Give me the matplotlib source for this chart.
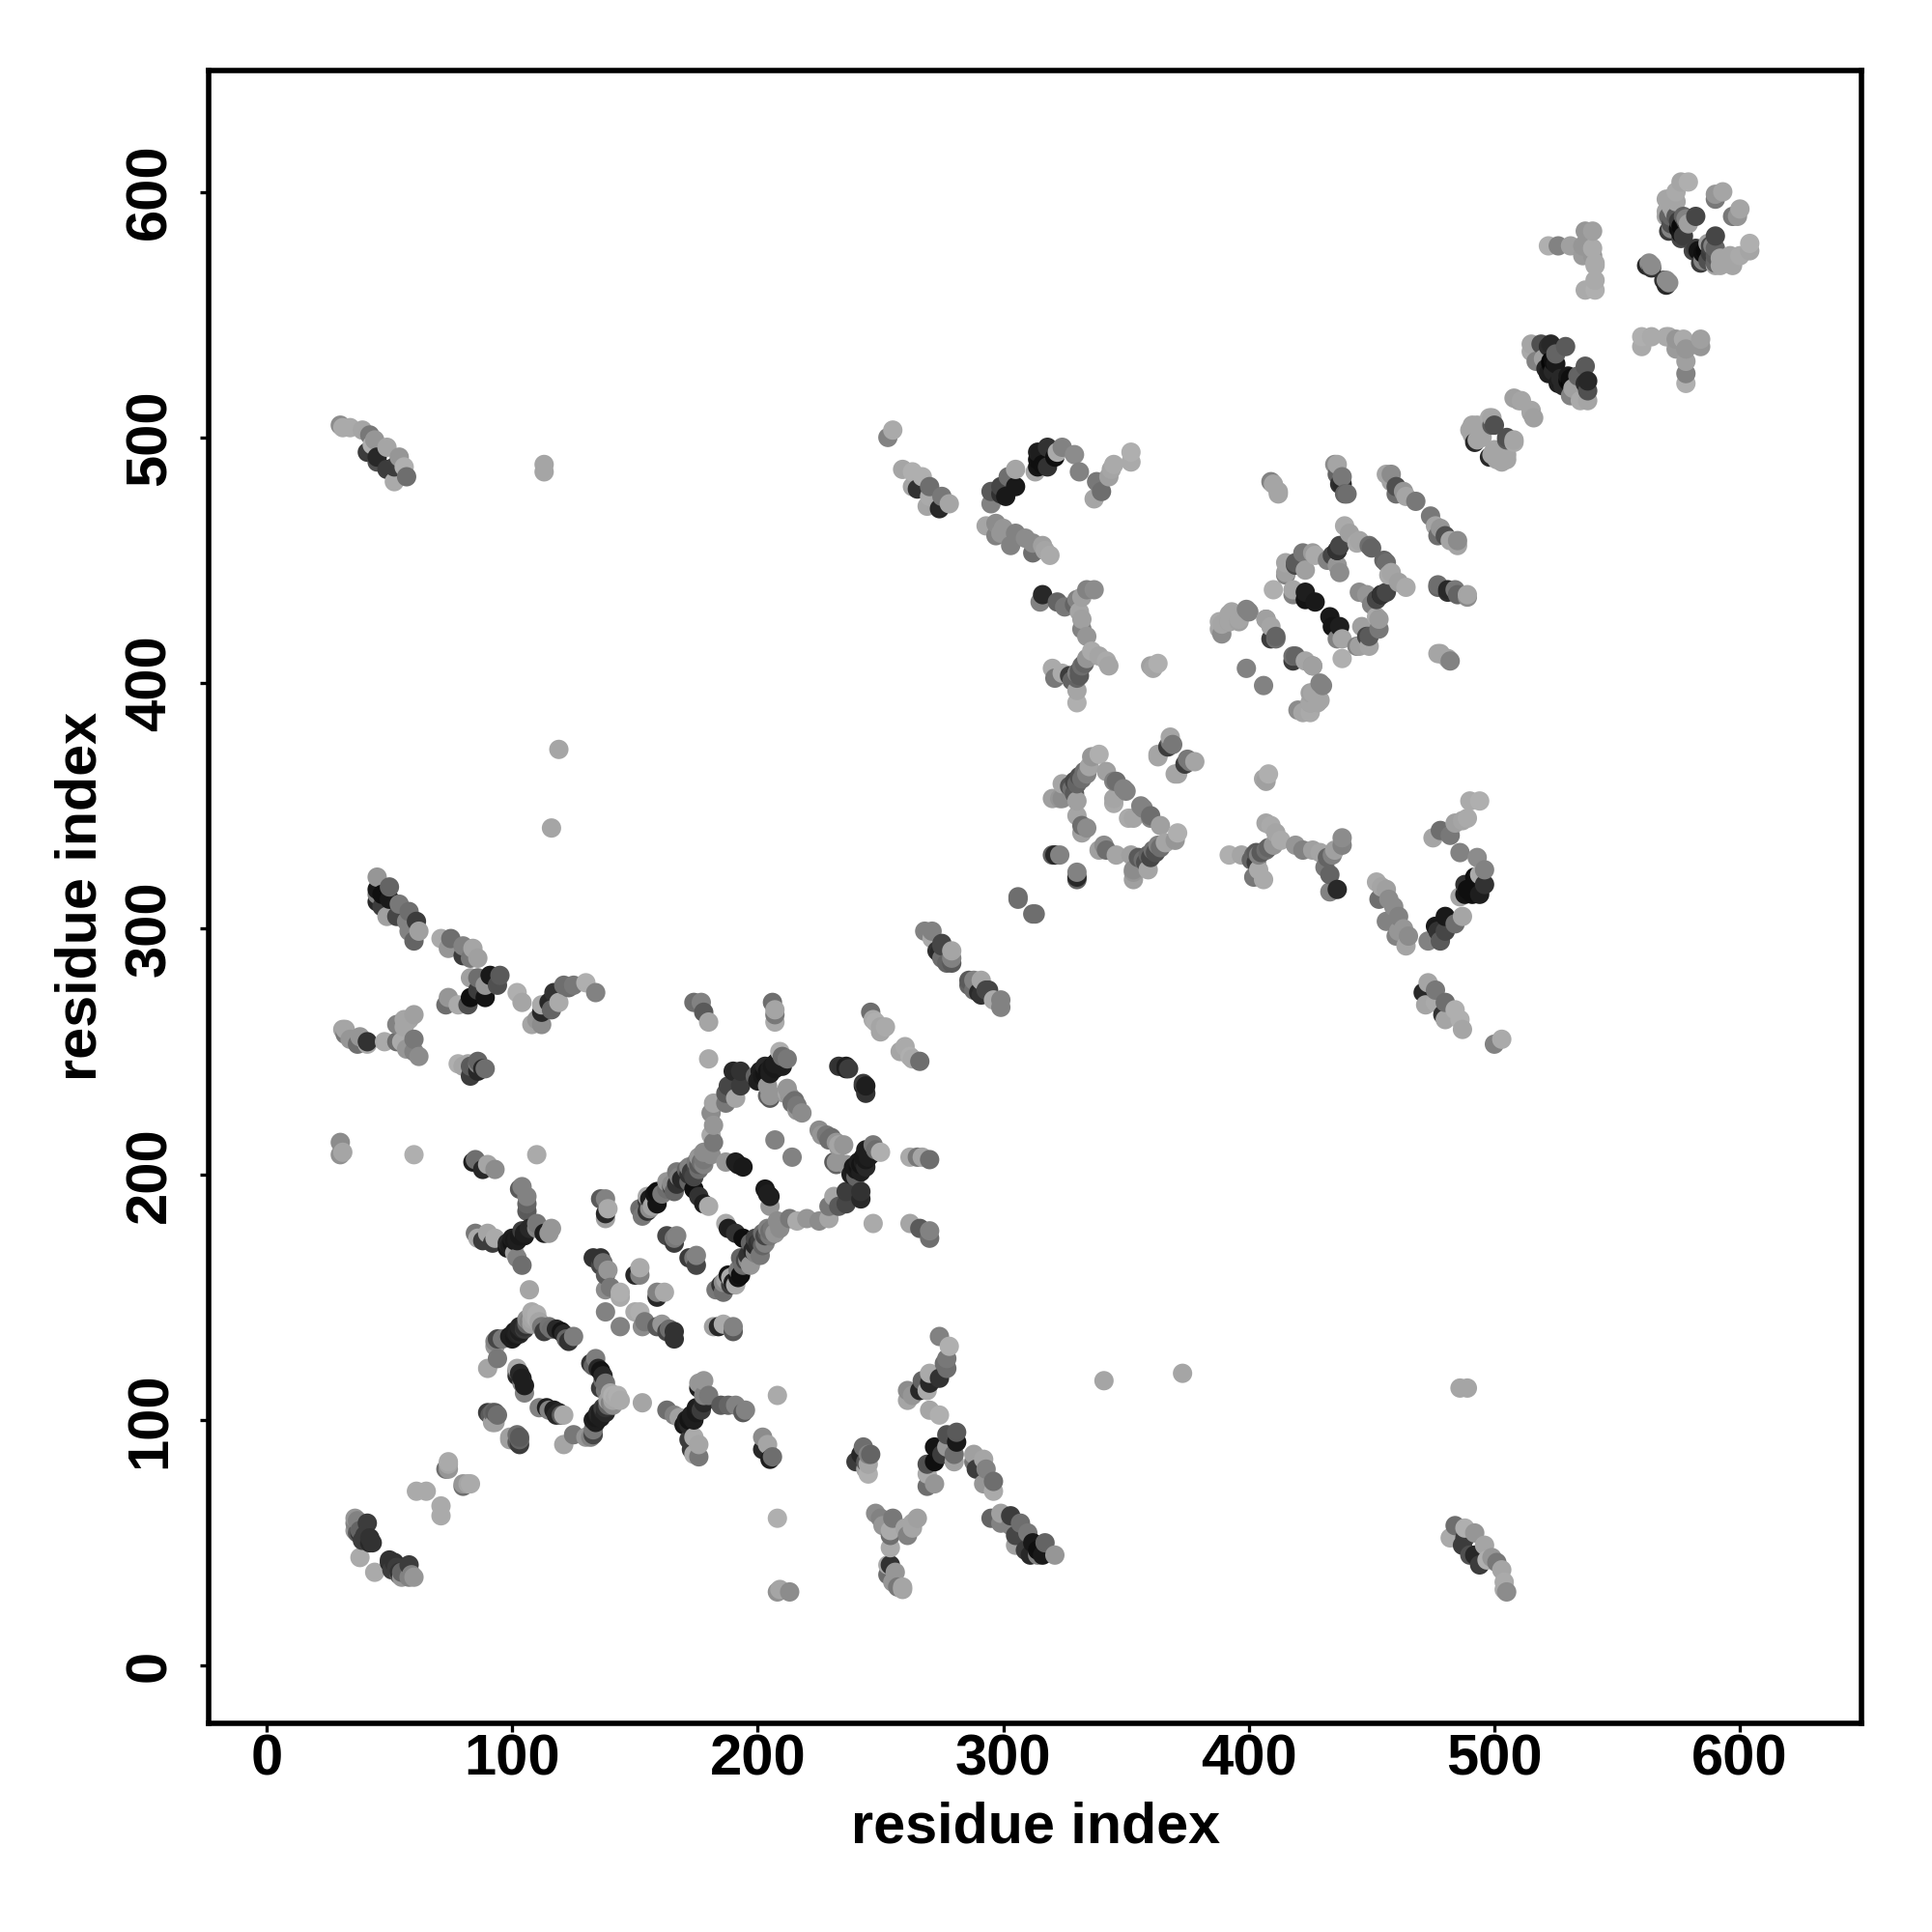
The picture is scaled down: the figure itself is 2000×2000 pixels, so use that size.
import matplotlib
matplotlib.use("Agg")
import matplotlib.pyplot as plt

plt.rcParams['font.family'] = ['Liberation Sans', 'DejaVu Sans']

# Contacts (residue i, residue j, grey level 0-255), i > j; the map is symmetric.
terminal_band = [(60,36,150),(58,36,130),(54,37,90),(53,40,60),(50,43,50),(51,39,60),(55,38,100),(59,37,130),
                 (44,38,170),(54,38,50),(52,42,50),(50,42,40),(55,36,150),(58,41,60)]
short_cross = [(71,65,170),(71,61,170),(83,74,170),(80,73,110),(82,74,165),(80,74,150)]
ring_a = [(133,100,30),(134,101,25),(135,102,35),(136,103,30),(137,104,40),(138,105,50),(139,106,100),(140,107,130),
          (141,108,165),(142,109,170),(143,110,175),(144,108,170),(141,110,175),
          (134,99,30),(136,101,30),(138,103,40),(135,103,40),(137,105,60),(139,108,160),(141,106,140),
          (134,125,125),(132,123,50),(133,122,100),(135,121,40),(136,120,20),(137,118,40),(137,116,110),(138,115,115),
          (136,113,60),(138,112,120),(140,111,165),
          (125,94,120),(121,90,165),(133,94,70),(132,93,130),(130,93,150),(133,96,120),
          (111,105,130),(114,105,30),(115,104,130),(117,104,30),(119,103,40),(120,102,90),(121,102,170),(118,102,40),
          (103,93,90),(103,90,60),(103,92,100),(99,92,160),(102,94,110),(102,91,90),(99,93,160)]
x_cluster = [(170,98,25),(171,99,30),(172,100,20),(173,101,25),(174,102,30),(175,103,25),(176,105,30),(178,107,40),
             (171,100,30),(173,102,30),(175,105,25),(172,98,40),(174,100,30),(177,104,60),
             (180,110,120),(178,116,150),(176,115,150),(176,113,30),(178,110,130),
             (185,106,90),(188,106,100),(191,106,130),(195,104,130),(194,103,90),
             (163,104,110),(166,102,130),(168,101,160),
             (174,93,170),(176,90,165),(176,85,120),(174,86,170),(172,92,60),(173,88,60),
             (202,93,140),(204,90,165),(206,85,110),(202,88,40),(205,84,30)]
isolated = [(208,110,170),(208,60,175),(153,107,165),(489,113,165),(486,113,165),(373,119,165),(341,116,165),
            (209,31,165),(213,30,140),(208,30,145),(144,138,130),(214,207,130)]
mid_cluster = [(162,152,170),(159,152,130),(159,150,40),(152,144,175),(150,144,170),(154,140,120),(153,138,140),
               (159,138,90),(161,139,150),(164,137,110),(166,136,50),(166,133,50),(163,136,70),
               (175,167,130),(175,163,70),(172,166,60),(174,166,120),
               (186,139,170),(182,138,160),(184,138,40),(190,138,130),(190,136,90)]
band_a = [(183,153,120),(185,155,50),(186,152,110),(187,157,160),(188,159,20),(189,155,60),(190,156,30),(192,158,20),(193,159,15),(191,155,170),
          (193,166,100),(195,165,70),(197,163,150),(201,167,120),(196,167,50),(198,169,40),(199,171,40),(200,172,50),
          (201,173,60),(203,175,70),(204,176,90),(205,177,110),(206,178,120),(208,181,140),(213,182,120),(216,181,170),
          (220,182,150),(225,181,140),(229,182,165),(229,187,120),(231,191,165),(233,187,90),(236,188,70),(236,193,60),
          (242,193,50),(242,190,40),(232,204,100),(236,204,150),(238,200,30),(240,202,25),(241,203,20),(242,204,20),(243,205,30),
          (244,206,25),(245,207,30),(246,208,30),(244,210,30),(248,210,110),(247,212,120),(250,209,175),
          (186,156,140),(189,158,170),(192,161,120),(194,163,110),(196,165,140),(199,168,130),(202,171,100),(203,172,130),
          (205,175,120),(207,176,150),(209,178,140),(204,178,130),(202,176,110),(199,174,70),(197,172,100),
          (239,203,25),(241,205,30),(243,207,25),(245,209,30),(240,199,100),(242,201,30),(244,203,40)]
band_far = [(262,207,170),(265,207,120),(267,207,165),(270,206,110),(247,180,170),(262,180,165),(266,178,90),
            (270,177,130),(270,174,110),(244,236,30),(244,233,50),(243,237,60),(243,236,30),
            (266,246,110),(263,247,170),(260,252,170),(258,250,165),(262,248,175),(260,250,165)]
ring_inner = [(203,194,25),(205,191,30),(204,192,30),(194,174,15),(191,176,50),(187,180,170),(188,178,30),(205,187,150),
              (233,212,165),(230,215,110),(225,218,140),(232,205,150),(231,205,90),(229,214,110),(232,213,150),
              (233,211,150),(226,216,150),(228,216,120),(235,212,150)]
y_cluster = [(274,134,130),(278,130,175),(276,123,110),(277,125,120),(277,121,110),(274,117,50),(270,119,170),
             (267,116,100),(270,115,40),(269,112,170),(266,112,40),(261,108,165),(261,112,140),(263,110,150),
             (270,104,165),(274,102,175),
             (281,95,90),(277,94,80),(281,91,25),(272,89,20),(275,86,60),(280,86,110),(272,83,15),(269,82,80),
             (280,83,160),(277,89,150),(269,78,170),(272,74,150),(269,73,110),
             (243,89,110),(245,86,130),(240,83,60),(245,82,165),(245,78,175),(242,86,40)]
lower_y = [(248,62,140),(250,60,130),(251,57,150),(254,55,170),(254,53,110),(254,48,170),(261,53,130),(260,56,165),
           (263,58,165),(265,60,160),(263,56,165),
           (254,41,50),(253,37,110),(256,38,150),(255,34,150),(259,32,165),(257,32,120)]
strip_low = [(295,60,100),(299,62,160),(299,58,130),(303,61,60),(303,57,130),(307,58,110),(305,53,70),(305,49,160),
             (310,54,120),(312,50,25),(309,47,60),(317,50,100),(314,45,130),(316,45,25),(311,45,40),(314,47,15),(321,45,150),
             (288,86,160),(288,83,120),(292,84,165),(293,80,130),(289,80,60),(296,75,110),(292,74,150),(296,71,170)]
strip_diag = [(286,279,90),(288,279,130),(291,279,165),(293,275,70),(290,274,40),(294,275,70),(291,273,50),(296,271,170),
              (299,271,130),(299,268,130),(286,277,100),(288,275,110),(313,306,110),(306,312,110)]
s_cluster = [(357,349,130),(360,345,130),(364,342,160),(371,339,175),(370,336,150),(366,335,165),(364,333,110),
             (362,331,80),(360,329,70),(358,327,80),(355,329,90),(352,330,160),(359,324,165),(353,323,150),(353,320,160),
             (346,330,165),(342,332,110),(339,332,160),(353,345,165),(360,346,110),(356,350,130),(351,345,170),
             (353,324,140),(341,334,140),(330,323,130),(330,320,100),(330,321,40),
             (361,332,110),(363,334,130),(359,330,100),(357,328,110),
             (376,368,120),(378,368,165),(371,363,165),(374,367,60),(375,369,120),(370,363,165),
             (408,363,175),(406,361,165),(407,360,160)]
y_right = [(392,330,175),(397,330,165),(401,328,100),(402,330,100),(403,331,90),(404,330,130),(405,331,90),(407,332,110),(408,333,100),(410,334,150),(413,336,170),
           (411,339,165),(409,342,170),(407,343,165),(404,324,170),(406,320,170),(402,321,120),(403,327,60),
           (419,334,150),(422,332,130),(426,332,160),(429,331,165),(432,329,100),(434,330,130),(438,337,140),(438,334,130),
           (433,322,100),(436,316,40),(433,315,130),(431,325,120),(435,332,160)]
v_cluster = [(452,319,170),(456,316,160),(453,312,110),(459,309,140),(461,305,130),(456,303,130),(465,297,140),
             (464,293,165),(461,299,150),(460,297,130),(454,317,165),(457,312,140),(463,300,150),
             (473,295,130),(477,299,50),(476,301,25),(480,299,70),(478,295,90),(480,305,25),(484,302,110),(487,305,165),
             (486,313,165),(488,314,20),(492,321,15),(494,322,170),(496,324,130),(496,318,50),(494,314,30),(491,314,15),
             (488,318,50),(489,316,15),
             (486,331,130),(493,329,140),(475,337,165),(478,340,110),(482,338,120),(484,343,160),(487,344,165),(489,345,170),(490,352,170),(494,352,175)]
v_lower = [(473,278,165),(471,274,40),(476,275,120),(476,270,170),(472,269,165),(480,270,110),(479,265,50),
           (484,267,175),(486,263,175),(487,259,165),(480,263,165),(503,255,170),(500,253,130)]
upper_ring = [(456,449,110),(458,445,165),(464,439,170),(461,441,160),(456,437,70),(454,436,50),(452,434,70),(450,432,130),
              (453,426,155),(453,422,120),(449,419,90),(449,415,165),(445,415,160),(446,423,160),(448,436,150),(445,437,140),
              (438,418,165),(438,410,175),(433,427,25),(434,423,20),(436,418,130),(437,423,30),
              (455,450,100),(457,444,170),(454,436,30),(452,427,170),(448,419,70),(444,415,130)]
upper_left = [(477,439,100),(481,437,50),(485,436,100),(489,435,140),(478,412,165),(482,409,130),
              (474,468,120),(476,464,165),(477,460,110),(480,460,80),(485,458,140),(485,456,165),(478,463,150),(482,458,165),
              (429,400,130),(424,389,165),(428,392,165),(426,396,165),(420,389,140),(425,392,160),
              (426,407,160),(423,409,165),(418,411,110),(418,409,60),(419,411,100),(426,407,150),(406,399,130),
              (430,399,130),(425,396,160),(429,393,165),(425,392,165),(422,388,165),(425,388,170),
              (489,436,165),(484,438,120),(477,440,110),(481,438,40),(481,410,165),(477,412,165)]
near_500 = [(505,500,80),(505,499,90),(508,498,170),(505,493,165),(499,493,165),(498,492,40),(501,491,165),(505,491,165),
            (503,490,165),(500,495,165),(504,495,165),(508,499,165),(516,508,160),(515,510,160),(511,515,165)]
dark_530 = [(537,529,90),(538,523,40),(538,519,80),(535,515,170),(538,515,165),(528,521,40),(526,522,30),(527,524,40),
            (530,525,25),(531,517,130),(532,520,160),(534,525,100),(530,523,10),(531,524,15),(531,523,5),(537,522,45)]
t_cluster = [(560,541,175),(560,537,170),(564,541,170),(570,541,170),(574,540,150),(577,540,170),(584,540,160),(584,537,150),
             (574,536,155),(578,536,150),(578,531,160),(578,526,130),(578,522,175),(571,541,170)]
pair_570 = [(571,563,140),(570,564,140),(570,562,40),(569,564,50)]
top_ring = [(604,579,175),(604,576,165),(600,574,170),(597,570,165),(596,574,165),(600,593,165),(597,590,120),(599,590,150),
            (590,582,70),(587,579,160),(590,574,90),(590,571,100),(587,572,80),(585,575,15),(583,576,20),(581,576,70),
            (584,571,60),(588,575,60),(586,576,10),(589,578,130),(590,572,100),(590,570,165),(582,577,60),(592,570,165),
            (588,578,70),(590,577,100),(585,572,130),(592,573,165),(594,572,165),(598,573,165)]
long_range = [(484,57,110),(482,52,170),(488,56,175),(488,52,60),(492,54,150),(496,49,165),(494,41,60),(492,45,40),
              (501,42,120),(503,39,165),(504,34,170),(505,30,140),(504,31,170),(497,43,175),(487,49,60),(490,45,80),(499,44,150)]
far_left = [(255,60,120),(246,86,100),(244,83,90),(243,88,40),(244,80,165),(253,41,170),(259,31,165)]

clusters = [terminal_band, short_cross, ring_a, x_cluster, isolated, mid_cluster, band_a, band_far, ring_inner,
            y_cluster, lower_y, strip_low, strip_diag, s_cluster, y_right, v_cluster, v_lower, upper_ring, upper_left,
            near_500, dark_530, t_cluster, pair_570, top_ring, long_range, far_left]

tick_values = [0, 100, 200, 300, 400, 500, 600]
axis_label = "residue index"

fig = plt.figure(figsize=(10, 10), dpi=200)
ax = fig.add_axes([216.3/2000, 1-1784/2000, (1927-216.3)/2000, (1784-72.7)/2000])

# The map draws both triangles, in ascending residue order, later dots on top.
points = []
for cluster in clusters:
    for a, b, grey in cluster:
        points.append((a, b, grey))
        points.append((b, a, grey))
points.sort()
ax.scatter([p[0] for p in points], [p[1] for p in points], s=52,
           c=[str(p[2]/255) for p in points], linewidths=0, zorder=3)

ax.set_xlim(-23.5, 649.5)
ax.set_ylim(-23.5, 649.5)
ax.set_xticks(tick_values)
ax.set_yticks(tick_values)
ax.set_xticklabels([str(v) for v in tick_values], fontsize=21.5, fontweight='bold')
ax.set_yticklabels([str(v) for v in tick_values], fontsize=21.5, fontweight='bold',
                   rotation=90, va='center')
ax.tick_params(axis='x', length=3.2, width=1.2, pad=0.7)
ax.tick_params(axis='y', length=3.2, width=1.2, pad=8.6)
ax.set_xlabel(axis_label, fontsize=21.4, fontweight='bold', labelpad=5.3)
ax.set_ylabel(axis_label, fontsize=21.4, fontweight='bold', labelpad=6)
for s in ax.spines.values():
    s.set_linewidth(2.0)

fig.savefig("out.png", dpi=200)
